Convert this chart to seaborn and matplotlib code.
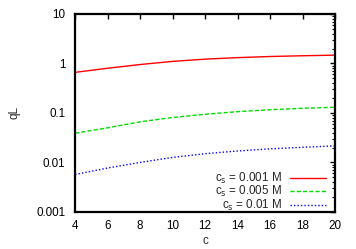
import pandas as pd
import matplotlib
matplotlib.use("Agg")
import matplotlib.pyplot as plt
import seaborn as sns
from matplotlib.ticker import LogLocator, FixedLocator, NullFormatter

# -------------------------------
# Data
# -------------------------------
c_values = [4, 6, 8, 10, 12, 14, 16, 18, 20]
q_cs_0001 = [0.66, 0.80, 0.95, 1.10, 1.22, 1.31, 1.38, 1.43, 1.47]
q_cs_0005 = [0.039, 0.050, 0.066, 0.081, 0.094, 0.106, 0.116, 0.124, 0.130]
q_cs_001 = [0.0057, 0.0077, 0.0100, 0.0126, 0.0150, 0.0170, 0.0188, 0.0202, 0.0216]
series_labels = ["c$_\\mathrm{s}$ = 0.001 M",
                 "c$_\\mathrm{s}$ = 0.005 M",
                 "c$_\\mathrm{s}$ = 0.01 M"]
y_ticks = [0.001, 0.01, 0.1, 1, 10]
y_tick_labels = ["0.001", "0.01", "0.1", "1", "10"]
x_ticks = [4, 6, 8, 10, 12, 14, 16, 18, 20]

df = pd.DataFrame({
    "c": c_values * 3,
    "qL": q_cs_0001 + q_cs_0005 + q_cs_001,
    "series": [series_labels[0]] * 9 + [series_labels[1]] * 9 + [series_labels[2]] * 9,
})

sns.set_style("white")
plt.rcParams["font.family"] = ["Liberation Sans", "DejaVu Sans"]
plt.rcParams["mathtext.default"] = "regular"

fs = 8.4
fig = plt.figure(figsize=(3.56, 2.49), dpi=100)
ax = fig.add_axes([0.211, 0.149, 0.730, 0.795])

palette = {series_labels[0]: "#ff0000", series_labels[1]: "#00dd00", series_labels[2]: "#0000ff"}
sns.lineplot(data=df, x="c", y="qL", hue="series", style="series",
             palette=palette, dashes=[(None, None), (3, 1.5), (1, 1.5)],
             linewidth=1.0, ax=ax)

ax.set_yscale("log")
ax.set_xlim(4, 20)
ax.set_ylim(0.001, 10)
ax.yaxis.set_major_locator(FixedLocator(y_ticks))
ax.set_yticklabels(y_tick_labels)
ax.yaxis.set_minor_locator(LogLocator(base=10, subs=range(2, 10)))
ax.yaxis.set_minor_formatter(NullFormatter())
ax.set_xticks(x_ticks)

ax.tick_params(which="both", direction="in", top=True, right=True, labelsize=fs, colors="black")
ax.tick_params(which="major", length=3.5, width=1)
ax.tick_params(which="minor", length=2, width=0.8)
ax.tick_params(axis="x", which="major", pad=6)
ax.tick_params(axis="y", which="major", pad=7)
for side in ax.spines.values():
    side.set_linewidth(1.6)
    side.set_color("black")

ax.set_xlabel("c", fontsize=fs, labelpad=2)
ax.set_ylabel("qL", fontsize=fs, labelpad=11)

leg = ax.legend(loc="lower right", frameon=False, fontsize=fs, markerfirst=False,
                handlelength=3.1, handletextpad=0.7, labelspacing=-0.12,
                borderaxespad=0.0, bbox_to_anchor=(0.985, -0.03))
# right-align labels like gnuplot keys
for col in leg._legend_handle_box.get_children():
    col.align = "right"

plt.savefig("out.png", dpi=100)
plt.close()
